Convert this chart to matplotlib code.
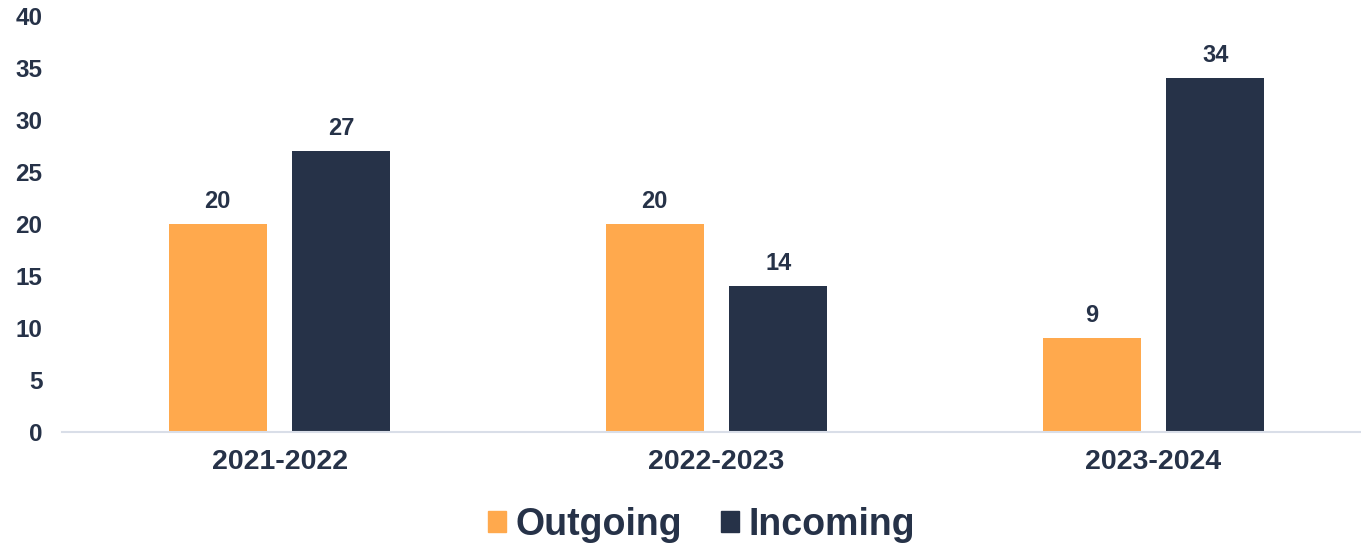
import matplotlib
matplotlib.use("Agg")
import matplotlib.pyplot as plt
from matplotlib.patches import Patch
import numpy as np

categories = ["2021-2022", "2022-2023", "2023-2024"]
outgoing = [20, 20, 9]
incoming = [27, 14, 34]
yticks = [0, 5, 10, 15, 20, 25, 30, 35, 40]

c_out = "#FFA94D"
c_in = "#263248"
txt = "#263248"

plt.rcParams['font.family'] = ['Liberation Sans', 'DejaVu Sans']
plt.rcParams['font.weight'] = 'bold'

fig = plt.figure(figsize=(13.61, 5.44), dpi=100)
ax = fig.add_axes([62/1361, (544-432)/544, 1 - 62/1361, (432-16)/544])

x = np.arange(len(categories))
w = 0.224
off = 0.1415
b1 = ax.bar(x - off, outgoing, w, color=c_out)
b2 = ax.bar(x + off, incoming, w, color=c_in)
for bars, vals in ((b1, outgoing), (b2, incoming)):
    for r, v in zip(bars, vals):
        ax.annotate(str(v), (r.get_x() + r.get_width()/2, v), xytext=(0, 8),
                    textcoords="offset points", ha="center", va="bottom",
                    fontsize=17, fontweight="bold", color=txt)

ax.set_xlim(-0.498, 2.475)
ax.set_ylim(0, 40)
ax.set_yticks(yticks)
ax.set_xticks(x)
ax.set_xticklabels(categories)
for s in ["top", "right", "left"]:
    ax.spines[s].set_visible(False)
ax.spines["bottom"].set_color("#D9DEE8")
ax.spines["bottom"].set_linewidth(1.5)
ax.tick_params(axis="both", length=0, colors=txt)
ax.tick_params(axis="y", labelsize=17.5, pad=14)
ax.tick_params(axis="x", labelsize=20.5, pad=12)
for lab in ax.get_xticklabels() + ax.get_yticklabels():
    lab.set_fontweight("bold")

handles = [Patch(color=c_out, label="Outgoing"), Patch(color=c_in, label="Incoming")]
leg = fig.legend(handles=handles, loc="center", bbox_to_anchor=(0.5155, 0.035),
                 ncol=2, frameon=False, prop={"size": 27, "weight": "bold"},
                 handlelength=0.48, handleheight=0.48, handletextpad=0.24,
                 columnspacing=1.04, borderpad=0)
for t in leg.get_texts():
    t.set_color(txt)

fig.savefig("out.png", dpi=100)
